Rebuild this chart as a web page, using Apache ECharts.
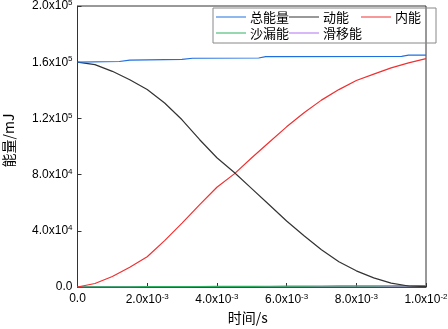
<!DOCTYPE html>
<html><head><meta charset="utf-8">
<script src="https://cdn.jsdelivr.net/npm/echarts@6/dist/echarts.min.js"></script>
<style>html,body{margin:0;padding:0;background:#fff}#c{width:448px;height:329px}</style>
</head><body><div id="c"></div>
<script>
var time = [0, 0.0005, 0.001, 0.0015, 0.002, 0.0025, 0.003, 0.0035, 0.004, 0.0045, 0.005, 0.0055, 0.006, 0.0065, 0.007, 0.0075, 0.008, 0.0085, 0.009, 0.0095, 0.01];
var kinetic = [160000, 158300, 153500, 147500, 140500, 131000, 119000, 105000, 92000, 81500, 70000, 58500, 47000, 36500, 26500, 18000, 11500, 6500, 2800, 700, 200];
var internal = [0, 2500, 7500, 14000, 21500, 33000, 45500, 58500, 71000, 80500, 92000, 103000, 114000, 124000, 133000, 140500, 147000, 151500, 156000, 159500, 162500];
var hourglass = [0, 50, 100, 150, 200, 250, 300, 350, 400, 450, 500, 550, 600, 650, 700, 750, 800, 850, 900, 950, 1000];
var sliding = [0, 0, 0, 0, 0, 0, 0, 0, 0, 0, 0, 0, 0, 0, 0, 0, 0, 0, 0, 0, 0];
var totalTime = [0, 0.0012, 0.0015, 0.003, 0.0033, 0.0052, 0.0054, 0.0093, 0.0095, 0.01];
var total = [160000, 160500, 161500, 162000, 162800, 163000, 164000, 164200, 165000, 165000];
var seriesNames = ['总能量', '动能', '内能', '沙漏能', '滑移能'];
var seriesColors = ['#1f6fe0', '#333333', '#f03030', '#2fb060', '#b070f0'];
var xTickValues = [0, 0.002, 0.004, 0.006, 0.008, 0.01];
var xTickMant = ['0.0', '2.0', '4.0', '6.0', '8.0', '1.0'];
var xTickExp = [null, '-3', '-3', '-3', '-3', '-2'];
var yTickValues = [0, 40000, 80000, 120000, 160000, 200000];
var yTickMant = ['0.0', '4.0', '8.0', '1.2', '1.6', '2.0'];
var yTickExp = [null, '4', '4', '5', '5', '5'];

function fmt(vals, mant, exp) {
  return function (v) {
    var i = -1;
    for (var k = 0; k < vals.length; k++) if (Math.abs(vals[k] - v) < 1e-12 * Math.max(1, Math.abs(v)) + 1e-9) i = k;
    if (i < 0) return '';
    if (exp[i] === null) return mant[i];
    return mant[i] + 'x10{sup|' + exp[i] + '}';
  };
}
var rich = { sup: { fontSize: 8, verticalAlign: 'top', padding: [0, 0, 6, 0], fontFamily: 'Liberation Sans, Arial', color: '#000' } };

function pairs(xs, ys) { return xs.map(function (x, i) { return [x, ys[i]]; }); }
var datas = [pairs(totalTime, total), pairs(time, kinetic), pairs(time, internal), pairs(time, hourglass), pairs(time, sliding)];

var chart = echarts.init(document.getElementById('c'));
chart.setOption({
  animation: false,
  backgroundColor: '#fff',
  grid: { left: 77.5, right: 22, top: 6, bottom: 42, show: true, borderColor: '#333', borderWidth: 1, containLabel: false, outerBoundsMode: 'none' },
  legend: {
    left: 213, top: 8, width: 222, padding: [1, 3, 2, 3], itemGap: 0,
    itemWidth: 30, itemHeight: 10,
    borderColor: '#888', borderWidth: 1,
    icon: 'path://M0,4.5L30,4.5L30,5.5L0,5.5Z',
    textStyle: { fontSize: 13, lineHeight: 16, width: 38, padding: [0,0,0,-1], fontFamily: 'Noto Sans CJK SC', color: '#000' },
    data: seriesNames
  },
  xAxis: {
    type: 'value', min: 0, max: 0.01, interval: 0.002,
    name: '时间/s', nameLocation: 'middle', nameGap: 24,
    nameTextStyle: { fontSize: 14, fontFamily: 'Noto Sans CJK SC', color: '#000', padding: [0, 8, 0, 0] },
    axisLine: { lineStyle: { color: '#333', width: 1 } },
    axisTick: { inside: true, length: 4, lineStyle: { color: '#333' } },
    splitLine: { show: false },
    axisLabel: { formatter: fmt(xTickValues, xTickMant, xTickExp), rich: rich, fontSize: 12, margin: 6, color: '#000', fontFamily: 'Liberation Sans, Arial', showMaxLabel: true, showMinLabel: true }
  },
  yAxis: {
    type: 'value', min: 0, max: 200000, interval: 40000,
    name: '能量/mJ', nameLocation: 'middle', nameGap: 62, nameRotate: 90,
    nameTextStyle: { fontSize: 14, fontFamily: 'Noto Sans CJK SC', color: '#000', padding: [0, 0, 0, 12] },
    axisLine: { show: true, lineStyle: { color: '#333', width: 1 } },
    axisTick: { show: true, inside: true, length: 4, lineStyle: { color: '#333' } },
    splitLine: { show: false },
    axisLabel: { formatter: fmt(yTickValues, yTickMant, yTickExp), rich: rich, fontSize: 12, margin: 5, color: '#000', fontFamily: 'Liberation Sans, Arial' }
  },
  series: seriesNames.map(function (n, i) {
    return {
      name: n, type: 'line', data: datas[i], showSymbol: false, smooth: false,
      color: seriesColors[i], lineStyle: { width: 1.2, color: seriesColors[i] }, z: 5 - i
    };
  })
});
</script></body></html>
